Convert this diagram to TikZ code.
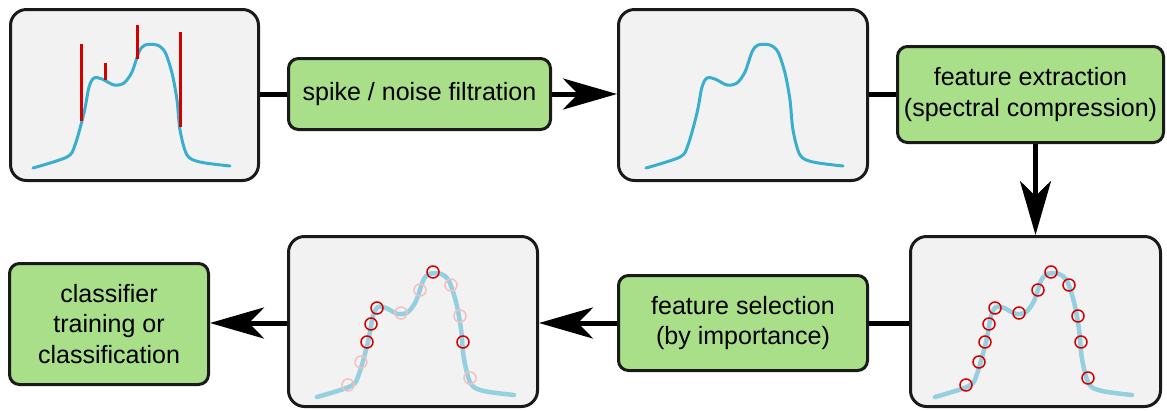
\documentclass[tikz,border=0pt]{standalone}
\usepackage{fontspec}
\setmainfont{Liberation Sans}
\usetikzlibrary{arrows.meta,positioning}

\definecolor{boxgray}{HTML}{F2F2F2}
\definecolor{boxline}{HTML}{1A1A1A}
\definecolor{stepgreen}{HTML}{A9DF88}
\definecolor{specblue}{HTML}{3AAECD}
\definecolor{speclight}{HTML}{96D0E0}
\definecolor{spikered}{HTML}{D40000}

\newcommand{\pxu}{0.025cm}
% one spectrum, in box coordinates
\newcommand{\spectrum}{plot[smooth] coordinates {(29,160) (63,149) (71,137) (80,105) (85,79) (90,70) (98,71) (110,77) (120,75) (128,64) (135,44) (141,37) (153,37) (161,44) (168,65) (173,92) (176,122) (183,147) (196,154) (226,158)}}

\tikzset{
	plotbox/.style={draw=boxline, fill=boxgray, line width=3*\pxu, rounded corners=16*\pxu},
	stepbox/.style={draw=boxline, fill=stepgreen, line width=3*\pxu, rounded corners=10*\pxu, align=center, font=\fontsize{17.8}{22}\selectfont},
	link/.style={line width=5*\pxu, black},
	linkarrow/.style={link, -{Stealth[length=54*\pxu, width=31*\pxu, inset=15*\pxu]}},
	picked/.style={draw=spikered, line width=1.5*\pxu},
	dropped/.style={draw=spikered!25, line width=1.5*\pxu},
}

\begin{document}
\begin{tikzpicture}[x=\pxu, y=-\pxu]
	\useasboundingbox (0,0) rectangle (1167,410);

	% spectra
	\node[plotbox, minimum width=248*\pxu, minimum height=171*\pxu] (raw) at (134.5,95) {};
	\node[plotbox, minimum width=249*\pxu, minimum height=171*\pxu] (filt) at (743,95) {};
	\node[plotbox, minimum width=250*\pxu, minimum height=170*\pxu] (sel) at (1035.5,321.5) {};
	\node[plotbox, minimum width=249*\pxu, minimum height=170*\pxu] (imp) at (413,321.5) {};

	% processing steps
	\node[stepbox, minimum width=262*\pxu, minimum height=71*\pxu] (filter) at (419.5,94) {spike / noise filtration};
	\node[stepbox, minimum width=266*\pxu, minimum height=96*\pxu] (extract) at (1030.5,94.5) {feature extraction\\(spectral compression)};
	\node[stepbox, minimum width=249*\pxu, minimum height=95*\pxu] (select) at (743,323) {feature selection\\(by importance)};
	\node[stepbox, minimum width=199*\pxu, minimum height=121*\pxu] (classify) at (109,324) {classifier\\training or\\classification};

	% connectors
	\draw[link] (raw.east |- filter) -- (filter.west);
	\draw[linkarrow] (filter.east) -- (filt.west |- filter);
	\draw[link] (filt.east |- filter) -- (extract.west |- filter);
	\draw[linkarrow] (sel.north |- extract.south) -- (sel.north);
	\draw[link] (sel.west |- select) -- (select.east);
	\draw[linkarrow] (select.west) -- (imp.east |- select);
	\draw[linkarrow] (imp.west |- select) -- (classify.east |- select);

	% raw spectrum with spikes
	\begin{scope}[shift={(4,8)}]
		\draw[specblue, line width=3*\pxu, line cap=round] \spectrum;
		\draw[spikered, line width=3*\pxu] (77,36) -- (77,113) (101,55) -- (101,72) (133,17) -- (133,51) (176,24) -- (176,119);
	\end{scope}

	% filtered spectrum
	\begin{scope}[shift={(617,8)}]
		\draw[specblue, line width=3*\pxu, line cap=round] \spectrum;
	\end{scope}

	% all features
	\begin{scope}[shift={(906,237)}]
		\draw[speclight, line width=4.5*\pxu, line cap=round] \spectrum;
		\foreach \p in {(60,148), (73,125), (79,105), (83,87), (89,71), (113,76), (132,53), (145,35), (163,48), (172,79), (175,105), (182,141)}
			\draw[picked] \p circle[radius=6];
	\end{scope}

	% selected features
	\begin{scope}[shift={(288,237)}]
		\draw[speclight, line width=4.5*\pxu, line cap=round] \spectrum;
		\foreach \p in {(60,148), (73,125), (113,76), (132,53), (163,48), (172,79), (182,141)}
			\draw[dropped] \p circle[radius=6];
		\foreach \p in {(79,105), (83,87), (89,71), (145,35), (175,105)}
			\draw[picked] \p circle[radius=6];
	\end{scope}
\end{tikzpicture}
\end{document}
